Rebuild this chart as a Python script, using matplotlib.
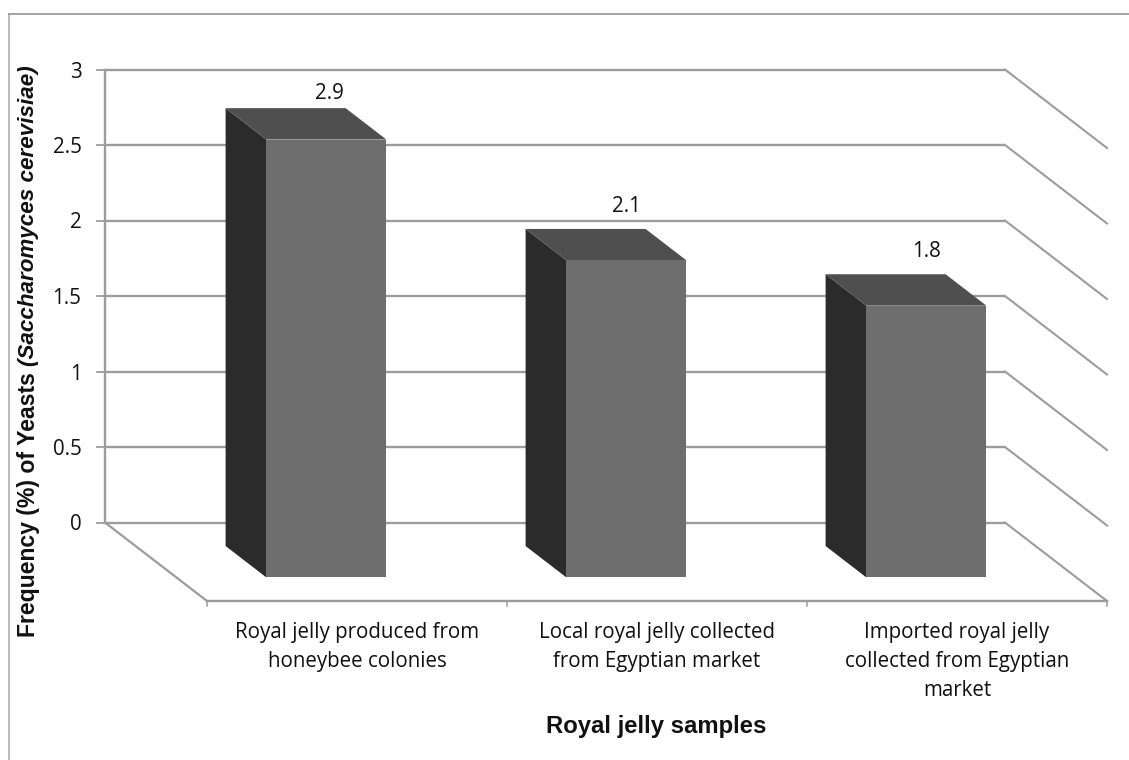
import matplotlib
matplotlib.use("Agg")
import matplotlib.pyplot as plt
from matplotlib.patches import Polygon
from matplotlib.transforms import Affine2D
from matplotlib.lines import Line2D

categories = ["Royal jelly produced from\nhoneybee colonies",
              "Local royal jelly collected\nfrom Egyptian market",
              "Imported royal jelly\ncollected from Egyptian\nmarket"]
values = [2.9, 2.1, 1.8]
value_labels = ["2.9", "2.1", "1.8"]
y_ticks = [0, 0.5, 1, 1.5, 2, 2.5, 3]
y_tick_labels = ["0", "0.5", "1", "1.5", "2", "2.5", "3"]

W, H = 1129, 760
DX, DY = 102, -78.5          # full floor depth in px (display y is up, so DY is down)
BAR_BACK, BAR_FRONT = 0.3, 0.7
BAR_W = 0.4

GRID = "#9c9c9c"
BODY = ["Open Sans", "Noto Sans", "DejaVu Sans"]
HEAD = ["Liberation Sans", "DejaVu Sans"]
FS = 14.8

fig = plt.figure(figsize=(W / 100, H / 100), dpi=100, facecolor="white")
L, R, T, B = 105, 1005, 69.5, 522.5
ax = fig.add_axes([L / W, 1 - B / H, (R - L) / W, (B - T) / H])
ax.set_xlim(-0.5, 2.5)
ax.set_ylim(0, 3)
ax.patch.set_visible(False)
for s in ax.spines.values():
    s.set_visible(False)


def depth(d):
    return ax.transData + Affine2D().translate(d * DX, d * DY)


# frame (open at right and bottom, as in the crop)
fig.add_artist(Line2D([8.5 / W, 8.5 / W], [0, 1 - 13.5 / H], color="#a6a6a6", lw=1.1))
fig.add_artist(Line2D([8.5 / W, 1], [1 - 13.5 / H, 1 - 13.5 / H], color="#8c8c8c", lw=1.1))

# walls
for v in y_ticks:
    ax.plot([-0.5, 2.5], [v, v], color=GRID, lw=1.7, solid_capstyle="butt", zorder=1, clip_on=False)
    a = ax.transData.transform((2.5, v))
    ax.add_line(Line2D([a[0], a[0] + DX], [a[1], a[1] + DY], transform=None,
                       color=GRID, lw=1.5, zorder=1, clip_on=False))
    ax.add_line(Line2D([a[0] - 8 - 900, a[0] - 900], [a[1], a[1]], transform=None,
                       color=GRID, lw=1.3, zorder=1, clip_on=False))
ax.plot([-0.5, -0.5], [0, 3], color=GRID, lw=1.7, zorder=1, clip_on=False)

# floor
a0 = ax.transData.transform((-0.5, 0))
ax.add_line(Line2D([a0[0], a0[0] + DX], [a0[1], a0[1] + DY], transform=None,
                   color=GRID, lw=1.6, zorder=1, clip_on=False))
ax.plot([-0.5, 2.5], [0, 0], transform=depth(1), color=GRID, lw=1.7, zorder=1, clip_on=False)
for x in [-0.5, 0.5, 1.5, 2.5]:
    b = depth(1).transform((x, 0))
    ax.add_line(Line2D([b[0], b[0]], [b[1], b[1] - 5], transform=None,
                       color=GRID, lw=1.1, zorder=1, clip_on=False))

# bars
offsets = [(3, 46), (0, 54), (0, 54)]
for i, v in enumerate(values):
    x0, x1 = i - BAR_W / 2, i + BAR_W / 2
    fb = ax.transData.transform([(x0, 0), (x1, 0), (x0, v), (x1, v)])
    f = [(px + BAR_FRONT * DX, py + BAR_FRONT * DY) for px, py in fb]
    k = [(px + BAR_BACK * DX, py + BAR_BACK * DY) for px, py in fb]
    ax.add_patch(Polygon([k[0], f[0], f[2], k[2]], transform=None, fc="#2b2b2b", ec="none",
                         zorder=3, clip_on=False))
    ax.add_patch(Polygon([k[2], k[3], f[3], f[2]], transform=None, fc="#4f4f4f", ec="none",
                         zorder=3, clip_on=False))
    ax.bar(i, v, BAR_W, color="#6e6e6e", transform=depth(BAR_FRONT), zorder=4, clip_on=False)
    ax.annotate(value_labels[i], xy=(f[2][0] + 60, f[2][1]), xycoords="figure pixels",
                xytext=offsets[i], textcoords="offset pixels",
                ha="center", va="center", fontsize=FS, family=BODY, color="#111111")

# y tick labels
ax.set_xticks([])
ax.set_yticks(y_ticks)
ax.set_yticklabels(y_tick_labels, fontsize=FS, family=BODY, color="#111111")
ax.tick_params(axis="y", length=0, pad=17)

# category labels
for i, c in enumerate(categories):
    p = depth(1).transform((i, 0))
    ax.annotate(c, xy=(p[0], p[1]), xycoords="figure pixels", xytext=(0, -21),
                textcoords="offset pixels", ha="center", va="top", fontsize=FS,
                family=BODY, color="#111111", linespacing=1.5)

# axis titles
fig.text(656 / W, 1 - 727 / H, "Royal jelly samples", ha="center", va="center",
         fontsize=17.2, fontweight="bold", family=HEAD, color="#111111")
fig.text(29 / W, 1 - 637 / H, "Frequency (%) of Yeasts", rotation=90, ha="center", va="bottom",
         fontsize=16.6, fontweight="bold", family=HEAD, color="#111111")
fig.text(29 / W, 1 - 65 / H, "(Saccharomyces cerevisiae)", rotation=90, ha="center", va="top",
         fontsize=16.1, fontweight="bold", fontstyle="italic", family=HEAD, color="#111111")

fig.savefig("out.png", dpi=100, facecolor="white")
